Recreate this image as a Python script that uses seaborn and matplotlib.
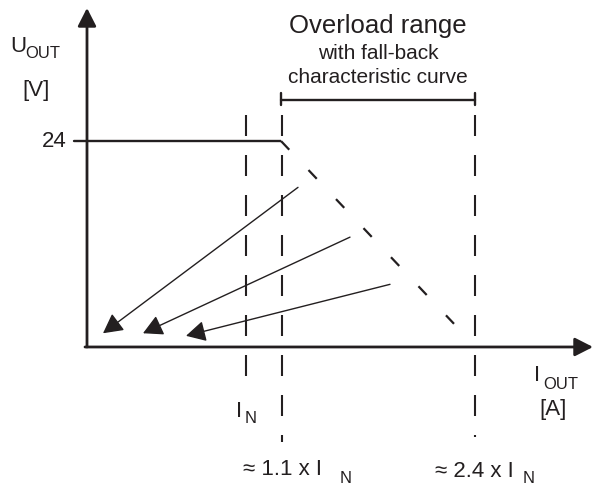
import matplotlib
matplotlib.use("Agg")
import matplotlib.pyplot as plt
import seaborn as sns

# --- DATA (schematic units: x = current axis units, y = volts) ---
U_NOM = 24
CURVE_X = [0, 194]                 # constant-voltage part
FALLBACK_X = [194, 367]            # fall-back (dashed) part
FALLBACK_Y = [24, 2.7]
MARK_X = [159, 195, 388]           # I_N, 1.1 x I_N, 2.4 x I_N
MARK_TOP = 27.0
MARK_BOTTOM = [-3.4, -11.1, -10.5]
ARROW_FROM_X = [211, 263, 303]
ARROW_FROM_Y = [18.6, 12.8, 7.3]
ARROW_TO_X = [16, 56, 99]
ARROW_TO_Y = [1.6, 1.6, 1.3]
RANGE_X = [194, 388]
RANGE_Y = 28.8
X_AXIS_END = 506
Y_AXIS_END = 39.5

INK = "#231f20"

sns.set_theme(style="white")
plt.rcParams["font.family"] = ["Liberation Sans", "DejaVu Sans"]

fig = plt.figure(figsize=(5.93, 4.91), dpi=100)
ax = fig.add_axes([0, 0, 1, 1])
ax.set_xlim(-87, 506)
ax.set_ylim(-16.78, 40.43)
ax.axis("off")

# axes with arrows
axis_arrow = dict(arrowstyle="-|>,head_length=0.55,head_width=0.28",
                  mutation_scale=20, lw=2.0, color=INK, shrinkA=0, shrinkB=0)
ax.annotate("", xy=(X_AXIS_END, 0), xytext=(-2, 0), arrowprops=axis_arrow)
ax.annotate("", xy=(0, Y_AXIS_END), xytext=(0, 0), arrowprops=axis_arrow)

# 24 V tick and constant-voltage line
ax.plot([-13, 0], [U_NOM, U_NOM], color=INK, lw=1.7)
ax.plot(CURVE_X, [U_NOM, U_NOM], color=INK, lw=1.7, solid_capstyle="butt")
ax.plot(FALLBACK_X, FALLBACK_Y, color=INK, lw=1.6, dashes=(5.4, 12.6))

# vertical dashed markers
for x, yb in zip(MARK_X, MARK_BOTTOM):
    ax.plot([x, x], [MARK_TOP, yb], color=INK, lw=1.5, dashes=(10.08, 9.12))

# overload range bracket
ax.plot(RANGE_X, [RANGE_Y, RANGE_Y], color=INK, lw=1.7)
for x in RANGE_X:
    ax.plot([x, x], [RANGE_Y + 0.8, RANGE_Y - 0.6], color=INK, lw=1.7)

# fall-back arrows
for x0, y0, x1, y1 in zip(ARROW_FROM_X, ARROW_FROM_Y, ARROW_TO_X, ARROW_TO_Y):
    ax.annotate("", xy=(x1, y1), xytext=(x0, y0),
                arrowprops=dict(arrowstyle="-|>,head_length=0.6,head_width=0.32",
                                mutation_scale=20, lw=1.0, color=INK,
                                shrinkA=0, shrinkB=0))

# texts
big, sub = 16, 12
ax.text(-77, 34.37, "U", fontsize=big, color=INK, va="baseline")
ax.text(-62, 33.67, "OUT", fontsize=sub, color=INK, va="baseline")
ax.text(-51, 29.94, "[V]", fontsize=big, color=INK, ha="center", va="center")
ax.text(-20, 24, "24", fontsize=big, color=INK, ha="right", va="center")

ax.text(291, 36.58, "Overload range", fontsize=18.5, color=INK, ha="center", va="baseline")
ax.text(291, 33.55, "with fall-back", fontsize=15, color=INK, ha="center", va="baseline")
ax.text(291, 30.8, "characteristic curve", fontsize=15, color=INK, ha="center", va="baseline")

ax.text(149, -8.16, "I", fontsize=big, color=INK, va="baseline")
ax.text(158, -8.85, "N", fontsize=sub, color=INK, va="baseline")

ax.text(156, -14.91, "≈ 1.1 x I", fontsize=big, color=INK, va="baseline")
ax.text(253, -15.85, "N", fontsize=sub, color=INK, va="baseline")

ax.text(348, -15.15, "≈ 2.4 x I", fontsize=big, color=INK, va="baseline")
ax.text(436, -15.85, "N", fontsize=sub, color=INK, va="baseline")

ax.text(447, -3.96, "I", fontsize=big, color=INK, va="baseline")
ax.text(456, -4.89, "OUT", fontsize=sub, color=INK, va="baseline")
ax.text(466, -7.34, "[A]", fontsize=big, color=INK, ha="center", va="center")

fig.savefig("out.png", dpi=100, facecolor="white")
